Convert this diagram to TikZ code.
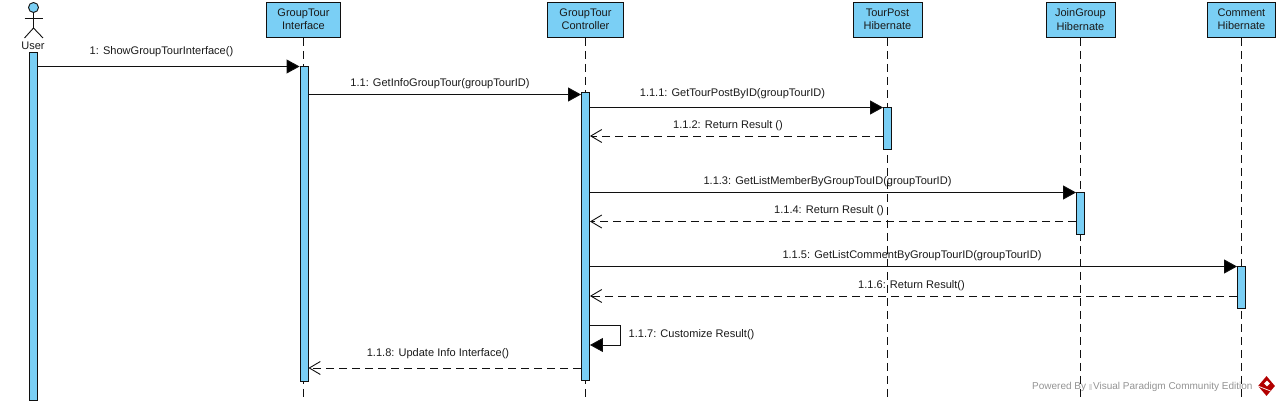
\documentclass[tikz,border=0pt]{standalone}
\usepackage{fontspec}
\setmainfont{Liberation Sans}
\usetikzlibrary{arrows.meta,shapes.geometric}
\definecolor{vpblue}{HTML}{7ACFF5}
\definecolor{ink}{HTML}{1A1A1A}
\definecolor{linecol}{HTML}{101010}
\newcommand{\headgap}{\\[-1.2pt]}
\newcommand{\headlift}{\rule[-1.6pt]{0pt}{0pt}}
\tikzset{
  x=1pt,y=-1pt,
  lifebox/.style={draw=linecol,fill=vpblue,line width=0.9pt,anchor=north west,inner sep=0pt,align=center,font=\fontsize{11}{14.5}\selectfont,text=ink},
  lifeline/.style={draw=linecol,line width=0.9pt,dash pattern=on 8pt off 5pt},
  actbar/.style={draw=linecol,fill=vpblue,line width=0.9pt,minimum width=8pt,inner sep=0pt,anchor=north},
  call/.style={draw=linecol,line width=0.9pt,-{Triangle[length=13pt,width=14pt,fill=black]}},
  reply/.style={draw=linecol,line width=0.9pt,dash pattern=on 8pt off 5pt,-{Straight Barb[length=11pt,width=13pt,line width=0.9pt]}},
  msg/.style={font=\fontsize{11.05}{12}\selectfont,text=ink,inner sep=0pt},
}
\begin{document}
\begin{tikzpicture}
\useasboundingbox (0,0) rectangle (1280,403);
% lifeline heads
\node[lifebox,minimum width=74pt,minimum height=34.5pt] (gi) at (266,2.5) {GroupTour\headgap Interface\headlift};
\node[lifebox,minimum width=76pt,minimum height=34.5pt] (gc) at (547,2.5) {GroupTour\headgap Controller\headlift};
\node[lifebox,minimum width=69pt,minimum height=34.5pt] (tp) at (852.5,2.5) {TourPost\headgap Hibernate\headlift};
\node[lifebox,minimum width=69pt,minimum height=34.5pt] (jg) at (1045.5,2.5) {JoinGroup\headgap Hibernate\headlift};
\node[lifebox,minimum width=68pt,minimum height=34.5pt] (cm) at (1207,2.5) {Comment\headgap Hibernate\headlift};
% lifeline ends
\coordinate (giend) at (303.5,399);
\coordinate (gcend) at (585,399);
\coordinate (tpend) at (887,399);
\coordinate (jgend) at (1080,399);
\coordinate (cmend) at (1241,399);
\draw[lifeline] (gi.south) -- (gi.south |- giend);
\draw[lifeline] (gc.south) -- (gc.south |- gcend);
\draw[lifeline] (tp.south) -- (tp.south |- tpend);
\draw[lifeline] (jg.south) -- (jg.south |- jgend);
\draw[lifeline] (cm.south) -- (cm.south |- cmend);
% actor
\node[circle,draw=linecol,fill=vpblue,line width=0.9pt,minimum size=10pt,inner sep=0pt] (uh) at (33.5,7.5) {};
\coordinate (uhip) at (33.5,28);
\coordinate (uarml) at (24.5,18);
\coordinate (uarmr) at (43,18);
\coordinate (ufootl) at (24.5,38);
\coordinate (ufootr) at (43,38);
\draw[draw=linecol,line width=0.9pt] (uh.south) -- (uhip);
\draw[draw=linecol,line width=0.9pt] (uarml) -- (uarmr);
\draw[draw=linecol,line width=0.9pt] (ufootl) -- (uhip) -- (ufootr);
\node[msg,font=\fontsize{11}{12}\selectfont] (ulabel) at (33,46) {User};
% activation bars
\node[actbar,minimum height=348pt] (ub) at (33.5,52) {};
\node[actbar,minimum height=315pt] (ib) at (304,66) {};
\node[actbar,minimum height=288pt] (cb) at (585.5,92) {};
\node[actbar,minimum height=42pt] (tb) at (887.5,107) {};
\node[actbar,minimum height=42pt] (jb) at (1080.5,192) {};
\node[actbar,minimum height=42pt] (mb) at (1241.5,266) {};
% message rows
\coordinate (r1) at (0,66.5);
\coordinate (r2) at (0,94.5);
\coordinate (r3) at (0,107.5);
\coordinate (r4) at (0,136);
\coordinate (r5) at (0,192.5);
\coordinate (r6) at (0,221.5);
\coordinate (r7) at (0,266.5);
\coordinate (r8) at (0,296);
\coordinate (r9a) at (620,325);
\coordinate (r9b) at (620,345);
\coordinate (r10) at (0,368);
\draw[call] (ub.east |- r1) -- (ib.west |- r1);
\draw[call] (ib.east |- r2) -- (cb.west |- r2);
\draw[call] (cb.east |- r3) -- (tb.west |- r3);
\draw[reply] (tb.west |- r4) -- (cb.east |- r4);
\draw[call] (cb.east |- r5) -- (jb.west |- r5);
\draw[reply] (jb.west |- r6) -- (cb.east |- r6);
\draw[call] (cb.east |- r7) -- (mb.west |- r7);
\draw[reply] (mb.west |- r8) -- (cb.east |- r8);
\draw[call] (cb.east |- r9a) -- (r9a) -- (r9b) -- (cb.east |- r9b);
\draw[reply] (cb.west |- r10) -- (ib.east |- r10);
% labels
\node[msg] (l1) at (161.5,52) {1: ShowGroupTourInterface()};
\node[msg] (l2) at (440,84) {1.1: GetInfoGroupTour(groupTourID)};
\node[msg] (l3) at (732.5,94) {1.1.1: GetTourPostByID(groupTourID)};
\node[msg] (l4) at (728,126) {1.1.2: Return Result ()};
\node[msg] (l5) at (827.5,182) {1.1.3: GetListMemberByGroupTouID(groupTourID)};
\node[msg] (l6) at (829,211) {1.1.4: Return Result ()};
\node[msg] (l7) at (912,256) {1.1.5: GetListCommentByGroupTourID(groupTourID)};
\node[msg] (l8) at (911.5,286) {1.1.6: Return Result()};
\node[msg,anchor=west] (l9) at (628.5,335) {1.1.7: Customize Result()};
\node[msg] (l10) at (438,354) {1.1.8: Update Info Interface()};
% watermark
\node[msg,anchor=west,text=gray!85,font=\fontsize{10}{12}\selectfont] (wm) at (1032,387) {Powered By\hspace{3pt}\textcolor{gray!25}{\rule{3pt}{6pt}}\hspace{1pt}Visual Paradigm Community Edition};
\node[diamond,fill=red!70!black,minimum width=17pt,minimum height=20pt,aspect=0.85,inner sep=0pt] (logo) at (1266.5,386) {};
\node[diamond,fill=white,minimum width=6pt,minimum height=6pt,inner sep=0pt] (logoin) at (1267,383.5) {};
\coordinate (logocut) at (1270.5,391);
\draw[white,line width=0.7pt] (logo.west) -- (logocut);
\end{tikzpicture}
\end{document}
